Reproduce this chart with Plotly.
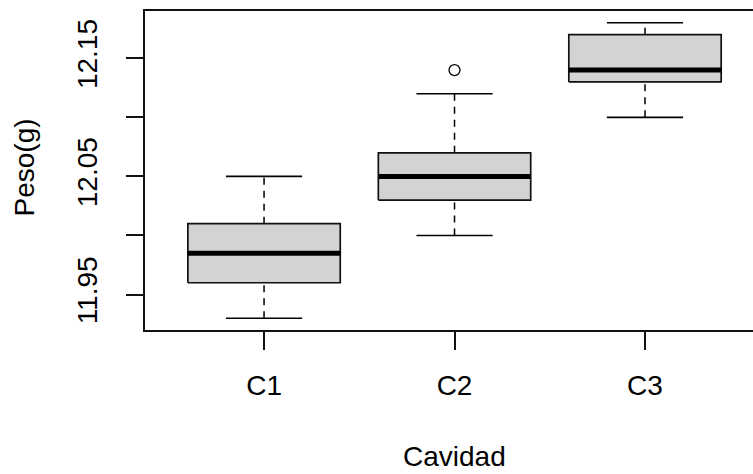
import plotly.graph_objects as go

categories = ["C1", "C2", "C3"]
positions = [1, 2, 3]
lower_whisker = [11.93, 12.00, 12.10]
q1 = [11.96, 12.03, 12.13]
median = [11.985, 12.05, 12.14]
q3 = [12.01, 12.07, 12.17]
upper_whisker = [12.05, 12.12, 12.18]
outlier_cat = [2]
outlier_val = [12.14]

y_tickvals = [11.95, 12.00, 12.05, 12.10, 12.15]
y_ticktext = ["11.95", "", "12.05", "", "12.15"]

BOXW = 0.4    # half width of box
CAPW = 0.2    # half width of staple
FONT = "Liberation Sans, Arial, sans-serif"
FS = 28

fig = go.Figure()

# dashed whiskers
wx, wy = [], []
for p, a, b, c, d in zip(positions, lower_whisker, q1, q3, upper_whisker):
    wx += [p, p, None, p, p, None]
    wy += [a, b, None, c, d, None]
fig.add_trace(go.Scatter(x=wx, y=wy, mode="lines",
                         line=dict(color="black", width=1.5, dash="7px,6px"),
                         hoverinfo="skip", showlegend=False))

# caps
cx, cy = [], []
for p, a, d in zip(positions, lower_whisker, upper_whisker):
    cx += [p - CAPW, p + CAPW, None, p - CAPW, p + CAPW, None]
    cy += [a, a, None, d, d, None]
fig.add_trace(go.Scatter(x=cx, y=cy, mode="lines",
                         line=dict(color="black", width=1.6),
                         hoverinfo="skip", showlegend=False))

# boxes
for p, b, c in zip(positions, q1, q3):
    fig.add_trace(go.Scatter(
        x=[p - BOXW, p + BOXW, p + BOXW, p - BOXW, p - BOXW],
        y=[b, b, c, c, b], mode="lines", fill="toself",
        fillcolor="#D3D3D3", line=dict(color="#111111", width=1.7),
        hoverinfo="skip", showlegend=False))

# medians
mx, my = [], []
for p, m in zip(positions, median):
    mx += [p - BOXW, p + BOXW, None]
    my += [m, m, None]
fig.add_trace(go.Scatter(x=mx, y=my, mode="lines",
                         line=dict(color="black", width=5),
                         hoverinfo="skip", showlegend=False))

# outliers
fig.add_trace(go.Scatter(x=outlier_cat, y=outlier_val, mode="markers",
                         marker=dict(symbol="circle-open", size=11, color="black",
                                     line=dict(width=1.3)),
                         hoverinfo="skip", showlegend=False))

fig.update_layout(
    width=753, height=474,
    margin=dict(l=145, r=0, t=11, b=144),
    plot_bgcolor="white", paper_bgcolor="white",
    font=dict(family=FONT, size=FS, color="black"),
    showlegend=False,
)
fig.update_xaxes(
    range=[0.375, 3.567], tickvals=positions, ticktext=categories,
    showline=True, mirror=True, linecolor="#111111", linewidth=1.7,
    ticks="outside", ticklen=18, tickwidth=1.6, tickcolor="#111111",
    showgrid=False, zeroline=False, ticklabelstandoff=12,
    tickfont=dict(size=FS, family=FONT, color="black"),
)
fig.update_yaxes(
    range=[11.92, 12.19], tickvals=y_tickvals, ticktext=y_ticktext,
    tickangle=-90,
    showline=True, mirror=False, linecolor="#111111", linewidth=1.7,
    ticks="outside", ticklen=17, tickwidth=1.6, tickcolor="#111111",
    showgrid=False, zeroline=False, ticklabelstandoff=18,
    tickfont=dict(size=FS, family=FONT, color="black"),
)

fig.add_annotation(text="Cavidad", xref="paper", yref="paper",
                   x=(454 - 145) / 608, y=-144 / 319,
                   xanchor="center", yanchor="bottom", showarrow=False,
                   font=dict(size=FS, family=FONT, color="black"))
fig.add_annotation(text="Peso(g)", xref="paper", yref="paper",
                   x=(24 - 145) / 608, y=(330 - 167.5) / 319,
                   xanchor="center", yanchor="middle", showarrow=False,
                   textangle=-90,
                   font=dict(size=FS, family=FONT, color="black"))

fig.write_html("out.html")
